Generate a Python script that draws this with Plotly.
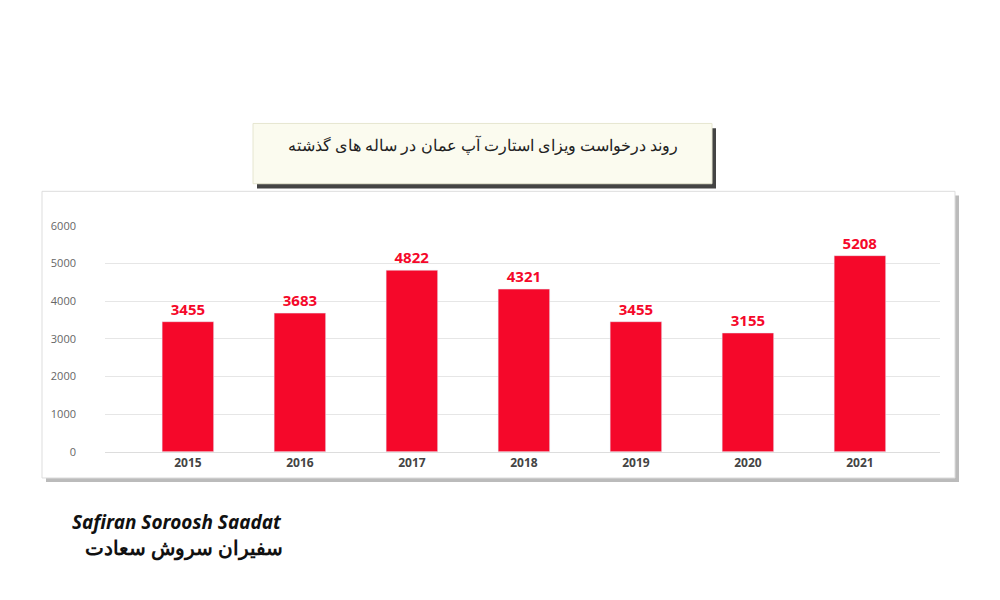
import plotly.graph_objects as go

years = ["2015", "2016", "2017", "2018", "2019", "2020", "2021"]
requests = [3455, 3683, 4822, 4321, 3455, 3155, 5208]
title_text = "روند درخواست ویزای استارت آپ عمان در ساله های گذشته"

dx = -0.008
dy = 0.0133

fig = go.Figure(go.Bar(
    x=years, y=requests, marker_color="#f5082a", width=0.46,
    text=["<b>%d</b>" % v for v in requests], textposition="outside",
    textfont=dict(color="#f5082a", size=15, family="Open Sans"),
    cliponaxis=False,
))
shapes = [
    dict(type="rect", xref="paper", yref="paper", x0=0.046+dx, x1=0.959+dx, y0=0.19+dy, y1=0.68+dy,
         fillcolor="#bbbbbb", line_width=0, layer="below"),
    dict(type="rect", xref="paper", yref="paper", x0=0.042+dx, x1=0.955+dx, y0=0.197+dy, y1=0.687+dy,
         fillcolor="white", line=dict(color="#dddddd", width=1), layer="below"),
    dict(type="rect", xref="paper", yref="paper", x0=0.257+dx, x1=0.716+dx, y0=0.692+dy, y1=0.795+dy,
         fillcolor="#444444", line_width=0, layer="below"),
    dict(type="rect", xref="paper", yref="paper", x0=0.253+dx, x1=0.712+dx, y0=0.700+dy, y1=0.803+dy,
         fillcolor="#fbfbef", line=dict(color="#e6e6d0", width=1), layer="below"),
]
fig.update_layout(
    width=1000, height=600, margin=dict(l=0, r=0, t=0, b=0),
    paper_bgcolor="white", plot_bgcolor="rgba(0,0,0,0)", showlegend=False,
    shapes=shapes,
    xaxis=dict(domain=[0.105+dx, 0.94+dx], range=[-0.74, 6.715], showgrid=False, showline=True,
               linecolor="#dddddd",
               tickfont=dict(size=12, color="#444444", family="Open Sans", weight="bold"), ticks=""),
    yaxis=dict(domain=[0.2417+dy, 0.628+dy], range=[0, 6000], dtick=1000, gridcolor="#e6e6e6",
               zeroline=False, tickfont=dict(size=11, color="#666666", family="Open Sans"),
               ticklabelstandoff=28),
    annotations=[
        dict(text=title_text, x=0.4825+dx, y=0.766+dy, xref="paper", yref="paper", showarrow=False,
             yanchor="middle", font=dict(size=16, color="#222222", family="Noto Sans")),
        dict(text="<b><i>Safiran Soroosh Saadat</i></b>", x=0.062, y=0.11, xref="paper", yref="paper",
             xanchor="left", showarrow=False, font=dict(size=19, color="#111111", family="Noto Sans")),
        dict(text="<b>سفیران سروش سعادت</b>", x=0.277, y=0.065, xref="paper", yref="paper",
             xanchor="right", showarrow=False, font=dict(size=20, color="#111111", family="Noto Sans")),
    ],
)
fig.write_html("out.html")
